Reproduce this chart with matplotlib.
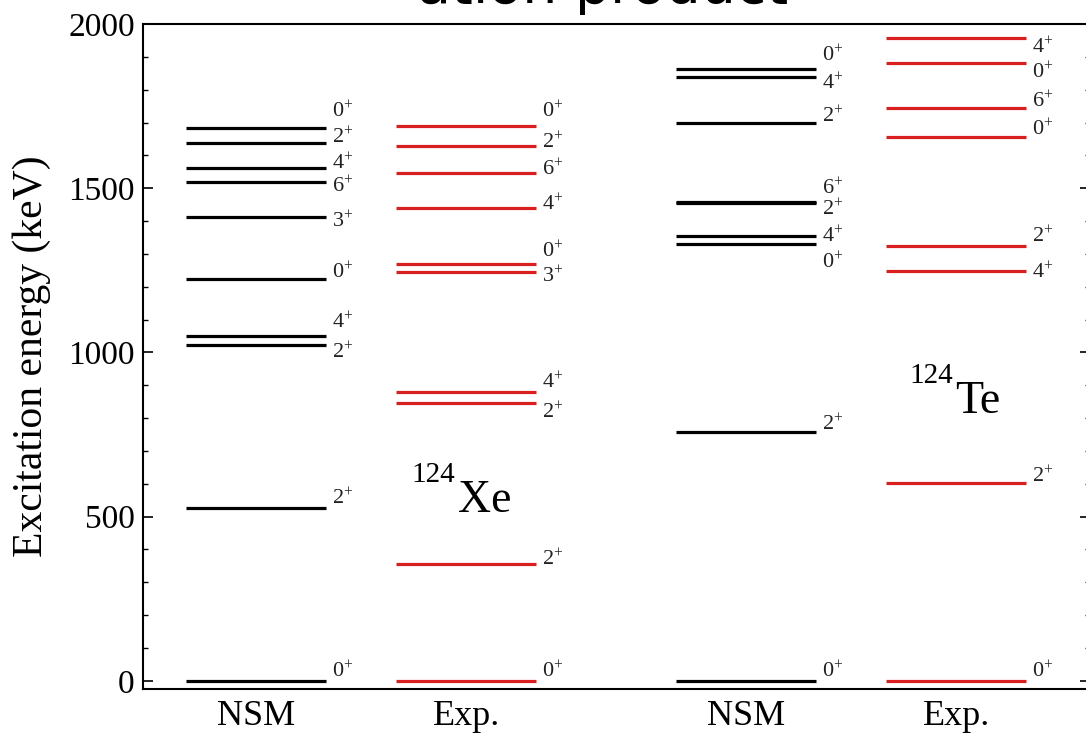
import matplotlib
matplotlib.use("Agg")
import matplotlib.pyplot as plt
from matplotlib.ticker import MultipleLocator

plt.rcParams['font.family'] = ['Liberation Serif', 'DejaVu Serif']
plt.rcParams['mathtext.fontset'] = 'custom'
plt.rcParams['mathtext.rm'] = 'Liberation Serif'
plt.rcParams['mathtext.it'] = 'Liberation Serif:italic'

# ---------------- data ----------------
column_labels = ["NSM", "Exp.", "NSM", "Exp."]
nucleus_mass = ["124", "124"]
nucleus_symbol = ["Xe", "Te"]

xe_nsm_energy = [0, 526, 1021, 1050, 1223, 1413, 1518, 1563, 1637, 1684]
xe_nsm_spin = ["0", "2", "2", "4", "0", "3", "6", "4", "2", "0"]

xe_exp_energy = [0, 355, 845, 879, 1246, 1269, 1439, 1547, 1629, 1689]
xe_exp_spin = ["0", "2", "2", "4", "3", "0", "4", "6", "2", "0"]

te_nsm_energy = [0, 759, 1330, 1355, 1454, 1458, 1700, 1840, 1862]
te_nsm_spin = ["0", "2", "0", "4", "2", "6", "2", "4", "0"]

te_exp_energy = [0, 602, 1249, 1324, 1657, 1745, 1882, 1956]
te_exp_spin = ["0", "2", "4", "2", "0", "6", "0", "4"]

# ---------------- layout ----------------
centers = [1.0, 2.0, 3.333, 4.333]
half_width = 0.333
colors = ["black", "#d92020", "black", "#d92020"]
# vertical placement of spin labels (keV, label centre), chosen to avoid overlaps
xe_nsm_label_y = [27, 554, 998, 1090, 1243, 1397, 1504, 1574, 1653, 1732]
xe_exp_label_y = [27, 368, 815, 906, 1231, 1307, 1449, 1556, 1638, 1733]
te_nsm_label_y = [27, 779, 1273, 1352, 1434, 1497, 1718, 1819, 1903]
te_exp_label_y = [27, 622, 1241, 1352, 1677, 1764, 1850, 1926]
# nucleus name anchors: (x of symbol start, symbol baseline keV, mass baseline keV)
nucleus_pos = [(1.962, 514, 606), (4.329, 816, 907)]

groups = [
    (xe_nsm_energy, xe_nsm_spin, xe_nsm_label_y),
    (xe_exp_energy, xe_exp_spin, xe_exp_label_y),
    (te_nsm_energy, te_nsm_spin, te_nsm_label_y),
    (te_exp_energy, te_exp_spin, te_exp_label_y),
]

fig = plt.figure(figsize=(10.86, 7.40), dpi=100)
ax = fig.add_axes([143 / 1086, 51 / 740, 947 / 1086, 665 / 740])

for (energy, spin, laby), xc, col in zip(groups, centers, colors):
    for e, s, ly in zip(energy, spin, laby):
        ax.hlines(e, xc - half_width, xc + half_width, colors=col, lw=2.3)
        ax.text(xc + half_width + 0.03, ly, r"$\mathregular{%s^{+}}$" % s,
                fontsize=16, va="center", ha="left", color="#222222")

ax.set_xlim(0.462, 4.97)
ax.set_ylim(-25, 2000)
ax.set_xticks(centers)
ax.set_xticklabels(column_labels, fontsize=26)
ax.tick_params(axis="x", length=0, pad=8)

ax.yaxis.set_major_locator(MultipleLocator(500))
ax.yaxis.set_minor_locator(MultipleLocator(100))
ax.tick_params(axis="y", which="major", direction="in", length=7, width=1.2,
               right=True, labelsize=24, pad=6)
ax.tick_params(axis="y", which="minor", direction="in", length=3.5, width=1.0,
               right=True)
ax.set_ylabel("Excitation energy (keV)", fontsize=30, labelpad=12)
for sp in ax.spines.values():
    sp.set_linewidth(1.5)

# nucleus names
for mass, sym, (xs, yb, ym) in zip(nucleus_mass, nucleus_symbol, nucleus_pos):
    ax.text(xs - 0.012, ym, mass, fontsize=21, ha="right", va="baseline")
    ax.text(xs, yb, sym, fontsize=33, ha="left", va="baseline")

# cropped title at the very top
fig.text(0.555, 1 - 3 / 740, "ation product", fontsize=40, ha="center",
         va="baseline", family="DejaVu Sans")

fig.savefig("out.png", dpi=100)
